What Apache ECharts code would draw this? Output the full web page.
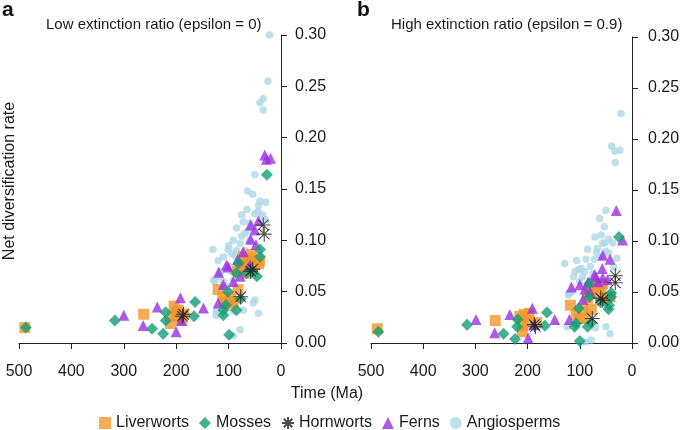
<!DOCTYPE html>
<html>
<head>
<meta charset="utf-8">
<script src="https://cdn.jsdelivr.net/npm/echarts@6/dist/echarts.min.js"></script>
<style>
html,body{margin:0;padding:0;background:#fff;}
#chart{width:685px;height:430px;}
</style>
</head>
<body>
<div id="chart"></div>
<script>
// ---- data: [time (Ma), net diversification rate] ----
var xTicks = [500, 400, 300, 200, 100, 0];
var yTicks = ['0.00', '0.05', '0.10', '0.15', '0.20', '0.25', '0.30'];
var groupNames = ['Liverworts', 'Mosses', 'Hornworts', 'Ferns', 'Angiosperms'];
var panelTitles = ['Low extinction ratio (epsilon = 0)', 'High extinction ratio (epsilon = 0.9)'];

// Panel a (epsilon = 0)
var liverwortsA = [[489,0.015],[262,0.028],[204,0.036],[196,0.032],[207,0.026],[185,0.028],[211,0.019],[190,0.022],[200,0.030],
  [120,0.052],[111,0.045],[108,0.040],[97,0.044],[91,0.040],[82,0.052],[83,0.070],[75,0.076],[69,0.079],[59,0.083],[60,0.073],
  [50,0.076],[41,0.080],[72,0.084],[56,0.086],[43,0.077],[78,0.071],[65,0.068],[100,0.038]];
var mossesA = [[487,0.015],[317,0.022],[246,0.014],[225,0.009],[220,0.022],[220,0.030],[166,0.026],[164,0.040],[110,0.032],
  [110,0.027],[85,0.032],[99,0.008],[101,0.050],[81,0.078],[46,0.065],[40,0.084],[40,0.091],[85,0.068],[66,0.068],[77,0.043],
  [27,0.164],[55,0.070],[105,0.037]];
var hornwortsA = [[188,0.026],[186,0.028],[77,0.045],[54,0.072],[58,0.070],[34,0.115],[32,0.106]];
var fernsA = [[300,0.027],[263,0.017],[236,0.035],[200,0.011],[192,0.044],[190,0.022],[148,0.034],[120,0.039],[119,0.069],
  [110,0.057],[104,0.076],[101,0.074],[91,0.060],[83,0.081],[78,0.065],[72,0.089],[58,0.101],[58,0.115],[59,0.076],[48,0.096],
  [43,0.119],[31,0.183],[28,0.179],[20,0.180],[50,0.110]];
var angiospermsA = [[22,0.300],[25,0.255],[40,0.234],[34,0.238],[34,0.227],[50,0.164],[64,0.148],[54,0.145],[40,0.138],[29,0.137],
  [43,0.134],[65,0.130],[50,0.126],[75,0.125],[44,0.128],[72,0.118],[85,0.112],[59,0.117],[69,0.107],[75,0.104],[91,0.100],
  [78,0.097],[130,0.091],[110,0.084],[101,0.091],[94,0.087],[120,0.080],[126,0.060],[129,0.061],[110,0.060],[91,0.061],
  [123,0.031],[124,0.027],[91,0.031],[72,0.032],[53,0.039],[50,0.042],[43,0.029],[78,0.013],[91,0.007],[100,0.075],[85,0.090],
  [95,0.070],[115,0.070],[60,0.100],[80,0.080],[105,0.055],[68,0.090],[88,0.085],[100,0.095],[30,0.120],[35,0.125],[118,0.065],[62,0.110]];

// Panel b (epsilon = 0.9)
var liverwortsB = [[488,0.014],[262,0.022],[215,0.026],[206,0.028],[197,0.029],[209,0.017],[210,0.011],[183,0.020],[200,0.022],
  [118,0.037],[107,0.028],[101,0.024],[95,0.033],[82,0.050],[69,0.056],[56,0.058],[60,0.052],[78,0.033],[85,0.044],[50,0.044],
  [42,0.045],[65,0.048],[88,0.024],[75,0.053]];
var mossesB = [[486,0.011],[316,0.018],[246,0.009],[224,0.004],[219,0.023],[220,0.016],[163,0.030],[167,0.017],[100,0.002],
  [110,0.016],[107,0.019],[102,0.034],[85,0.016],[82,0.058],[82,0.045],[78,0.020],[45,0.033],[44,0.037],[40,0.045],[40,0.049],
  [25,0.104],[60,0.040]];
var hornwortsB = [[185,0.016],[187,0.018],[76,0.024],[56,0.042],[60,0.044],[32,0.066],[32,0.059]];
var fernsB = [[299,0.023],[263,0.010],[234,0.028],[199,0.005],[191,0.034],[188,0.018],[148,0.023],[120,0.023],[116,0.055],
  [100,0.057],[94,0.043],[84,0.060],[72,0.067],[69,0.065],[56,0.086],[57,0.073],[56,0.064],[47,0.062],[42,0.082],[30,0.130],
  [18,0.101],[80,0.050],[65,0.060],[90,0.053]];
var angiospermsB = [[21,0.225],[39,0.193],[33,0.188],[23,0.189],[32,0.177],[50,0.130],[62,0.122],[53,0.114],[59,0.106],[45,0.102],
  [37,0.098],[56,0.098],[66,0.093],[50,0.090],[85,0.092],[72,0.082],[88,0.082],[102,0.072],[129,0.078],[91,0.070],[29,0.083],
  [35,0.074],[120,0.049],[122,0.047],[124,0.016],[89,0.001],[78,0.003],[50,0.016],[42,0.009],[70,0.015],[85,0.031],[106,0.081],
  [97,0.073],[109,0.070],[68,0.089],[52,0.098],[71,0.104],[112,0.065],[100,0.060],[80,0.075],[60,0.085],[115,0.050],[95,0.065],
  [75,0.068],[45,0.088]];

// ---- styling ----
var FONT = '"Liberation Sans", Arial, Helvetica, sans-serif';
var ASTER = 'path://M0,-10L0,10M-10,0L10,0M-7.07,-7.07L7.07,7.07M-7.07,7.07L7.07,-7.07';
var styles = {
  Liverworts: {symbol: 'rect', size: 11, itemStyle: {color: '#F4962B'}},
  Mosses: {symbol: 'diamond', size: 12, itemStyle: {color: '#129E76'}},
  Hornworts: {symbol: ASTER, size: 15, itemStyle: {color: 'rgba(0,0,0,0)', borderColor: '#222', borderWidth: 1.1}},
  Ferns: {symbol: 'triangle', size: 11, itemStyle: {color: '#9B2FE3'}},
  Angiosperms: {symbol: 'circle', size: 7.5, itemStyle: {color: '#ADD8E6'}}
};
var panels = [
  {Liverworts: liverwortsA, Mosses: mossesA, Hornworts: hornwortsA, Ferns: fernsA, Angiosperms: angiospermsA},
  {Liverworts: liverwortsB, Mosses: mossesB, Hornworts: hornwortsB, Ferns: fernsB, Angiosperms: angiospermsB}
];
var drawOrder = ['Angiosperms', 'Liverworts', 'Ferns', 'Mosses', 'Hornworts'];

var axisText = {color: '#1a1a1a', fontFamily: FONT, fontSize: 16};
function xAxis(i) {
  return {
    gridIndex: i, type: 'value', min: 0, max: 500, interval: 100, inverse: true,
    position: 'bottom', offset: 17,
    axisLine: {show: true, lineStyle: {color: '#222', width: 1}},
    axisTick: {show: true, length: 6, lineStyle: {color: '#222'}},
    axisLabel: Object.assign({margin: 4, formatter: function (v) { return xTicks.indexOf(v) >= 0 ? String(v) : ''; }}, axisText),
    splitLine: {show: false}
  };
}
function yAxis(i, off) {
  return {
    gridIndex: i, type: 'value', min: 0, max: 0.3, interval: 0.05, position: 'right', offset: off,
    axisLine: {show: true, lineStyle: {color: '#222', width: 1}},
    axisTick: {show: true, length: 6, lineStyle: {color: '#222'}},
    axisLabel: Object.assign({margin: 4, formatter: function (v) { return yTicks[Math.round(v / 0.05)]; }}, axisText),
    splitLine: {show: false}
  };
}

var series = [];
panels.forEach(function (p, i) {
  drawOrder.forEach(function (name) {
    var s = styles[name];
    series.push({
      type: 'scatter', name: name, xAxisIndex: i, yAxisIndex: i,
      symbol: s.symbol, symbolSize: s.size, itemStyle: s.itemStyle,
      data: p[name], clip: false, silent: true, animation: false
    });
  });
});

var chart = echarts.init(document.getElementById('chart'), null, {renderer: 'canvas'});
chart.setOption({
  backgroundColor: '#fff',
  animation: false,
  textStyle: {fontFamily: FONT},
  title: [
    {text: panelTitles[0], left: 41, top: 12, textStyle: {fontSize: 15, fontWeight: 'normal', color: '#1a1a1a', fontFamily: FONT}},
    {text: panelTitles[1], left: 386, top: 12, textStyle: {fontSize: 15, fontWeight: 'normal', color: '#1a1a1a', fontFamily: FONT}}
  ],
  graphic: [
    {type: 'text', left: 2, top: 0, style: {text: 'a', fontSize: 21, fontWeight: 'bold', fill: '#111', fontFamily: FONT}},
    {type: 'text', left: 357, top: 0, style: {text: 'b', fontSize: 21, fontWeight: 'bold', fill: '#111', fontFamily: FONT}},
    {type: 'text', x: 2, y: 181, rotation: Math.PI / 2,
      style: {text: 'Net diversification rate', fontSize: 16, fill: '#1a1a1a', fontFamily: FONT, align: 'center', verticalAlign: 'top'}},
    {type: 'text', x: 327, y: 386,
      style: {text: 'Time (Ma)', fontSize: 16, fill: '#1a1a1a', fontFamily: FONT, align: 'center', verticalAlign: 'top'}}
  ],
  legend: {
    top: 410, left: 94, itemGap: 10, itemWidth: 12, itemHeight: 12,
    textStyle: {fontSize: 16, color: '#1a1a1a', fontFamily: FONT},
    data: groupNames.map(function (n) { return {name: n, icon: styles[n].symbol}; })
  },
  grid: [
    {left: 19, top: 35, width: 262, height: 308},
    {left: 371, top: 37, width: 261, height: 306}
  ],
  xAxis: [xAxis(0), xAxis(1)],
  yAxis: [yAxis(0, 10), yAxis(1, 12)],
  series: series
});
</script>
</body>
</html>
